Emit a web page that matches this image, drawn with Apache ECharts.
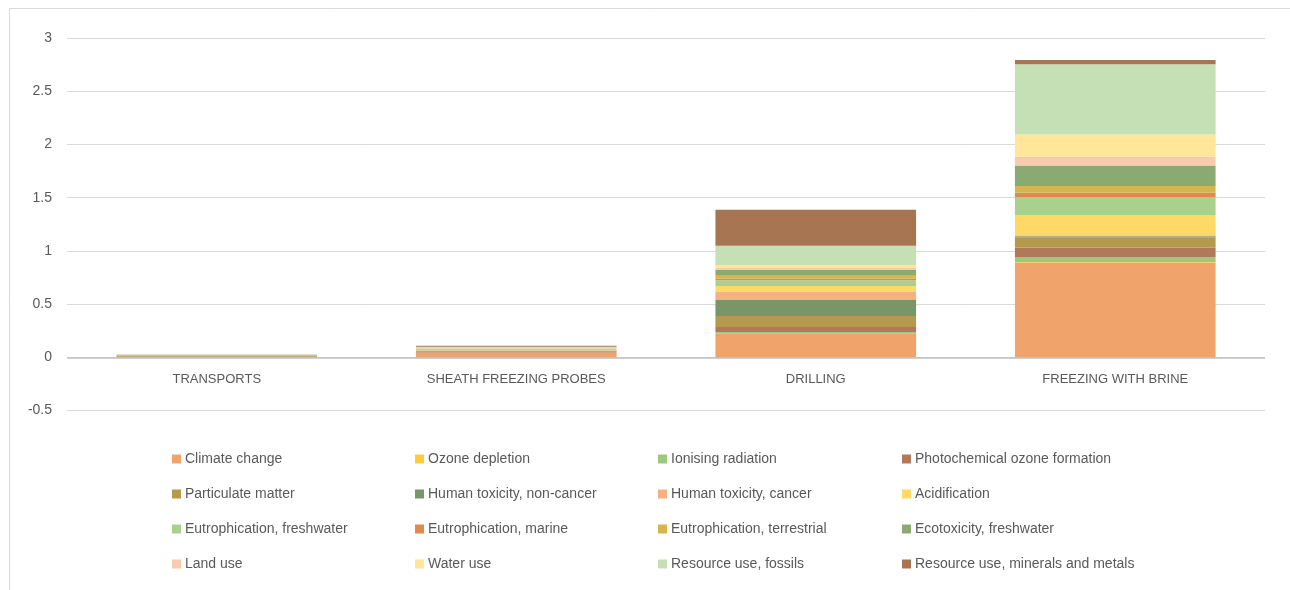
<!DOCTYPE html>
<html>
<head>
<meta charset="utf-8">
<script src="https://cdn.jsdelivr.net/npm/echarts@6/dist/echarts.min.js"></script>
<style>
html,body{margin:0;padding:0;background:#fff;}
#chart{width:1290px;height:590px;}
</style>
</head>
<body>
<div id="chart"></div>
<script>
// Categories
const categories = ['TRANSPORTS', 'SHEATH FREEZING PROBES', 'DRILLING', 'FREEZING WITH BRINE'];

// Impact categories (series names) in stacking order (bottom to top)
const seriesNames = [
  'Climate change', 'Ozone depletion', 'Ionising radiation', 'Photochemical ozone formation',
  'Particulate matter', 'Human toxicity, non-cancer', 'Human toxicity, cancer', 'Acidification',
  'Eutrophication, freshwater', 'Eutrophication, marine', 'Eutrophication, terrestrial', 'Ecotoxicity, freshwater',
  'Land use', 'Water use', 'Resource use, fossils', 'Resource use, minerals and metals'
];

// Values per series: [Transports, Sheath freezing probes, Drilling, Freezing with brine]
const climateChange        = [0.004, 0.045, 0.220, 0.890];
const ozoneDepletion       = [0.000, 0.000, 0.002, 0.006];
const ionisingRadiation    = [0.000, 0.001, 0.016, 0.047];
const photochemicalOzone   = [0.001, 0.003, 0.047, 0.088];
const particulateMatter    = [0.012, 0.008, 0.103, 0.094];
const humanToxNonCancer    = [0.001, 0.004, 0.150, 0.012];
const humanToxCancer       = [0.000, 0.002, 0.081, 0.010];
const acidification        = [0.000, 0.003, 0.050, 0.190];
const eutroFreshwater      = [0.000, 0.006, 0.056, 0.169];
const eutroMarine          = [0.000, 0.001, 0.012, 0.040];
const eutroTerrestrial     = [0.001, 0.003, 0.035, 0.063];
const ecotoxFreshwater     = [0.000, 0.005, 0.047, 0.194];
const landUse              = [0.000, 0.002, 0.020, 0.081];
const waterUse             = [0.000, 0.002, 0.025, 0.210];
const resourceFossils      = [0.003, 0.015, 0.185, 0.660];
const resourceMinerals     = [0.001, 0.008, 0.338, 0.040];

const seriesValues = [
  climateChange, ozoneDepletion, ionisingRadiation, photochemicalOzone,
  particulateMatter, humanToxNonCancer, humanToxCancer, acidification,
  eutroFreshwater, eutroMarine, eutroTerrestrial, ecotoxFreshwater,
  landUse, waterUse, resourceFossils, resourceMinerals
];

const seriesColors = [
  '#F0A46C', '#FFCB3D', '#9DC97A', '#B2785A',
  '#B39A4C', '#7A9668', '#F4B183', '#FFD966',
  '#A9D18E', '#E08A4E', '#D9B44A', '#8AAA72',
  '#F8CBAD', '#FFE699', '#C5E0B4', '#A87553'
];

// Y-axis ticks
const yMin = -0.5, yMax = 3, yInterval = 0.5;

const font = '"Liberation Sans", Arial, sans-serif';
const textColor = '#595959';

const chart = echarts.init(document.getElementById('chart'), null, {renderer: 'canvas'});

const series = seriesNames.map((name, i) => {
  const s = {
    name: name,
    type: 'bar',
    stack: 'total',
    barCategoryGap: '33%',
    data: seriesValues[i],
    itemStyle: {color: seriesColors[i]},
    emphasis: {disabled: true}
  };
  if (i === 0) {
    // darker zero baseline
    s.markLine = {
      silent: true,
      symbol: 'none',
      label: {show: false},
      lineStyle: {color: '#BFBFBF', width: 1.5, type: 'solid'},
      data: [{yAxis: 0}],
      z: 1
    };
  }
  return s;
});

// Legends: 4 columns, items arranged row-wise
const cols = 4;
const legendLefts = [172, 415, 658, 902];
const legends = [];
for (let c = 0; c < cols; c++) {
  const data = [];
  for (let r = 0; r < 4; r++) data.push(seriesNames[r * cols + c]);
  legends.push({
    orient: 'vertical',
    left: legendLefts[c],
    top: 452,
    padding: 0,
    itemWidth: 9,
    itemHeight: 9,
    itemGap: 21,
    icon: 'rect',
    data: data,
    selectedMode: false,
    textStyle: {color: textColor, fontSize: 14, fontFamily: font, padding: [0, 0, 0, -1]}
  });
}

chart.setOption({
  animation: false,
  backgroundColor: '#fff',
  graphic: [{
    type: 'rect',
    shape: {x: 9.5, y: 8.5, width: 1300, height: 600},
    style: {fill: 'none', stroke: '#D9D9D9', lineWidth: 1},
    silent: true
  }],
  grid: {left: 67, right: 25, top: 38, bottom: 179.5},
  legend: legends,
  xAxis: {
    type: 'category',
    data: categories,
    axisLine: {show: false, onZero: false},
    axisTick: {show: false},
    axisLabel: {color: textColor, fontSize: 13, fontFamily: font, margin: -38}
  },
  yAxis: {
    type: 'value',
    min: yMin, max: yMax, interval: yInterval,
    axisLine: {show: false},
    axisTick: {show: false},
    splitLine: {lineStyle: {color: '#D9D9D9', width: 1}},
    axisLabel: {color: textColor, fontSize: 14, fontFamily: font, margin: 15}
  },
  series: series
});
</script>
</body>
</html>
